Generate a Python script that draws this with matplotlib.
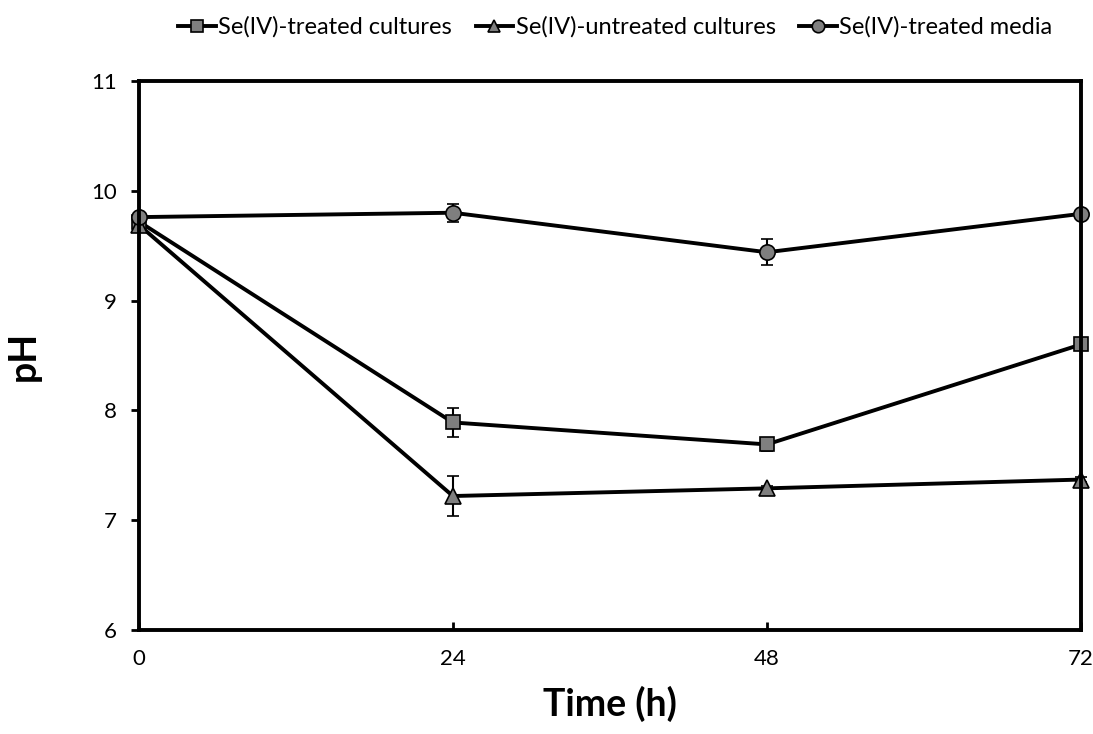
import numpy as np
import matplotlib.pyplot as plt
from matplotlib.lines import Line2D

plt.rcParams['font.family'] = ['Lato', 'DejaVu Sans']

# ===== DATA =====
time_h = [0, 24, 48, 72]

treated_cultures = [9.72, 7.89, 7.69, 8.60]
treated_cultures_err = [0.0, 0.13, 0.06, 0.05]

untreated_cultures = [9.69, 7.22, 7.29, 7.37]
untreated_cultures_err = [0.0, 0.18, 0.02, 0.02]

treated_media = [9.76, 9.80, 9.44, 9.79]
treated_media_err = [0.0, 0.08, 0.12, 0.02]

labels = ['Se(IV)-treated cultures', 'Se(IV)-untreated cultures', 'Se(IV)-treated media']
markers = ['s', '^', 'o']

# ===== PLOT =====
fig = plt.figure(figsize=(10.93, 7.34), dpi=100)
ax = fig.add_axes([0.127, 0.1417, 0.862, 0.748])

face = '#7f7f7f'
common = dict(color='black', lw=2.8, mfc=face, mec='black', mew=1.2,
              ecolor='black', elinewidth=1.5, capsize=4, capthick=1.5)

ax.errorbar(time_h, treated_cultures, yerr=treated_cultures_err, marker='s', ms=10, **common)
ax.errorbar(time_h, untreated_cultures, yerr=untreated_cultures_err, marker='^', ms=11, **common)
ax.errorbar(time_h, treated_media, yerr=treated_media_err, marker='o', ms=11, **common)

ax.set_xlim(0, 72)
ax.set_ylim(6, 11)
ax.set_xticks([0, 24, 48, 72])
ax.set_yticks([6, 7, 8, 9, 10, 11])

for s in ax.spines.values():
    s.set_linewidth(2.8)
ax.tick_params(axis='y', direction='out', length=6, width=2, labelsize=16, pad=10)
ax.tick_params(axis='x', direction='in', length=6, width=2, labelsize=16, pad=14)

ax.set_xlabel('Time (h)', fontsize=27, fontweight='bold', labelpad=12)
ax.set_ylabel('pH', fontsize=27, fontweight='bold', labelpad=36)

handles = [Line2D([], [], color='black', lw=2.8, marker=m, ms=9, mfc=face, mec='black', mew=1.2)
           for m in markers]
fig.legend(handles, labels, loc='center', bbox_to_anchor=(0.563, 0.963), ncol=3,
           frameon=False, fontsize=17, handlelength=1.6, handletextpad=0.1,
           columnspacing=1.0)

for line in ax.lines:
    line.set_clip_on(False)

plt.savefig('out.png', dpi=100)
